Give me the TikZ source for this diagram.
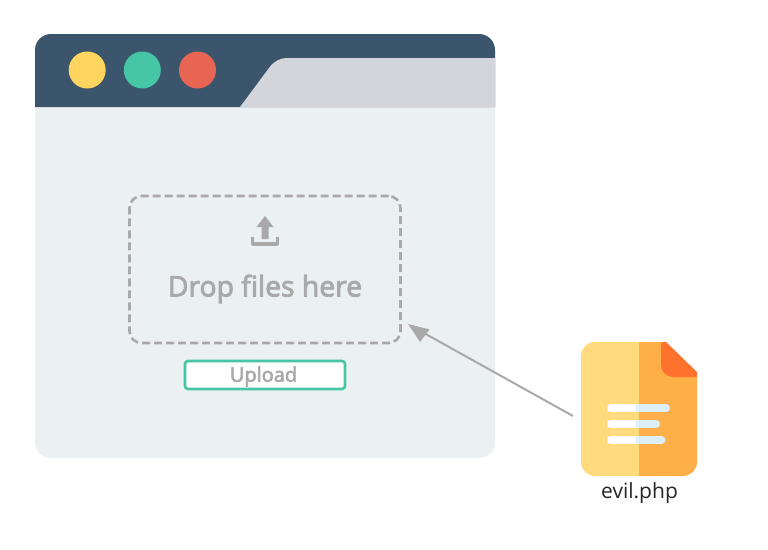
\documentclass[tikz,border=0pt]{standalone}
\usepackage{fontspec}
\setmainfont{Open Sans}
\newfontfamily\semi[FakeBold=3]{Open Sans}
\definecolor{navy}{HTML}{3B566C}
\definecolor{tabgrey}{HTML}{D4D5DA}
\definecolor{pane}{HTML}{EBF0F3}
\definecolor{dotyellow}{HTML}{FFD55F}
\definecolor{dotgreen}{HTML}{46C6A4}
\definecolor{dotred}{HTML}{E86554}
\definecolor{mute}{HTML}{A9A9A9}
\definecolor{pagelight}{HTML}{FFDB7E}
\definecolor{pagedark}{HTML}{FFAF47}
\definecolor{foldc}{HTML}{FF722D}
\definecolor{linelight}{HTML}{DDF0FA}
\tikzset{
  dot/.style={circle,minimum size=37pt,inner sep=0pt,draw=none},
  barline/.style={line width=8pt,line cap=round},
}
\begin{document}
\begin{tikzpicture}[x=1pt,y=-1pt]
\useasboundingbox (0,0) rectangle (768,549);
% window
\fill[pane,rounded corners=16pt] (35,34) rectangle (495,458);
\fill[navy] (35,107) -- (35,50) arc[start angle=180,end angle=90,radius=16pt] -- (479,34)
  arc[start angle=90,end angle=0,radius=16pt] -- (495,107) -- cycle;
\fill[tabgrey] (240,107) -- (269,68) .. controls (274,61) and (280,58) .. (287,58) -- (495,58) -- (495,107) -- cycle;
\node[dot,fill=dotyellow] (d1) at (87.2,70) {};
\node[dot,fill=dotgreen] (d2) at (142.3,70) {};
\node[dot,fill=dotred] (d3) at (197.5,70) {};
% drop zone
\node[draw=mute,line width=2.6pt,rounded corners=12pt,dash pattern=on 8pt off 4pt,minimum width=271pt,minimum height=147pt,inner sep=0pt] (drop) at (265,269.5) {};
\fill[mute] (265,216) -- (273.5,227) -- (268.5,227) -- (268.5,239) -- (261.5,239) -- (261.5,227) -- (256.5,227) -- cycle;
\draw[mute,line width=3.4pt,line join=round] (252.7,236.5) -- (252.7,244) -- (277.3,244) -- (277.3,236.5);
\node[text=mute,font=\fontsize{28.3pt}{30pt}\semi,inner sep=0pt] (droptext) at (265,289) {Drop files here};
% upload
\node[draw=dotgreen,fill=white,line width=2.6pt,rounded corners=3pt,minimum width=160pt,minimum height=28pt,inner sep=0pt] (upload) at (265,375) {};
\node[text=mute,font=\fontsize{20pt}{22pt}\semi,inner sep=0pt] (uploadtext) at (263.5,376.5) {Upload};
% file
\fill[pagelight,rounded corners=14pt] (581,342) rectangle (660,476);
\fill[pagelight] (639,342) rectangle (650,476);
\fill[pagedark] (639,342) -- (661,342) -- (697,377) -- (697,462) arc[start angle=0,end angle=-90,radius=14pt] -- (639,476) -- cycle;
\fill[foldc] (661,342) -- (666,342) -- (697,372) -- (697,377) -- (673,377)
  arc[start angle=270,end angle=180,radius=12pt] -- cycle;
\draw[barline,white] (611,408.3) -- (639,408.3);
\draw[barline,linelight] (639,408.3) -- (666,408.3);
\draw[barline,white] (611,424) -- (639,424);
\draw[barline,linelight] (639,424) -- (656,424);
\draw[barline,white] (611,440) -- (639,440);
\draw[barline,linelight] (639,440) -- (661.5,440);
\node[text=black!85,font=\fontsize{21pt}{22pt}\selectfont,inner sep=0pt] (evil) at (639.5,493) {evil.php};
% arrow
\coordinate (from) at (573,416);
\coordinate (to) at (408,324);
\fill[mute] (to) -- (429.5,329.5) -- (420,342) -- cycle;
\draw[mute,line width=2pt] (from) -- (423,332.5);
\end{tikzpicture}
\end{document}
